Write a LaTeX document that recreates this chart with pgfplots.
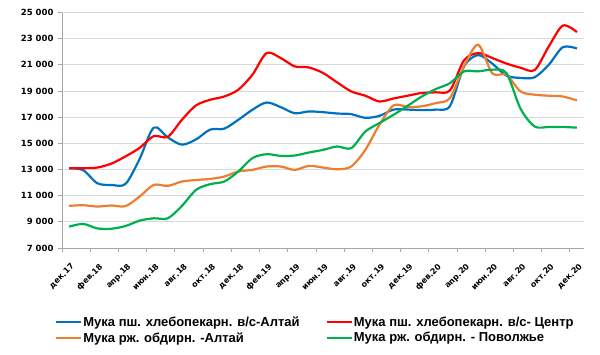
\documentclass[border=0pt]{standalone}
\usepackage{pgfplots}
\pgfplotsset{compat=1.18}
\usepackage{fontspec}
\setmainfont{DejaVu Sans}
\newfontfamily\legfont{Liberation Sans}
\definecolor{cblue}{RGB}{0,112,192}
\definecolor{cred}{RGB}{255,0,0}
\definecolor{corange}{RGB}{237,125,49}
\definecolor{cgreen}{RGB}{0,176,80}
\definecolor{gridc}{RGB}{217,217,217}
\definecolor{axc}{RGB}{166,166,166}

\pgfplotstableread{
i B R O G
0 13100 13100 10220 8630
1 12950 13100 10270 8840
2 11950 13150 10170 8500
3 11820 13450 10250 8470
4 11900 14000 10200 8680
5 13800 14650 10930 9090
6 16200 15550 11820 9270
7 15450 15500 11750 9270
8 14900 16800 12080 10220
9 15300 17900 12200 11440
10 16050 18330 12280 11880
11 16120 18580 12460 12080
12 16800 19100 12850 12850
13 17570 20250 12970 13870
14 18120 21900 13230 14170
15 17770 21520 13230 14040
16 17300 20880 12970 14070
17 17440 20800 13280 14300
18 17380 20380 13150 14500
19 17280 19660 13020 14760
20 17230 18970 13230 14630
21 16950 18640 14500 15900
22 17100 18200 16420 16550
23 17580 18430 17900 17180
24 17580 18640 17780 17870
25 17540 18850 17830 18580
26 17580 18900 18080 19150
27 17850 19050 18460 19600
28 20880 21350 20880 20500
29 21750 21900 22540 20500
30 21090 21520 20350 20630
31 20180 21100 20250 20370
32 20000 20780 18970 17650
33 20050 20600 18720 16290
34 21000 22400 18640 16250
35 22350 24000 18580 16250
36 22250 23500 18280 16200
}\data

\begin{document}
\begin{tikzpicture}
\useasboundingbox (-62pt,-106pt) rectangle (538pt,248pt);
\begin{axis}[
  at={(0pt,0pt)}, anchor=south west,
  scale only axis, width=522pt, height=235.5pt,
  xmin=-0.5, xmax=36.5, ymin=7000, ymax=25000,
  scaled y ticks=false,
  ytick={7000,9000,...,25000},
  yticklabels={7 000,9 000,11 000,13 000,15 000,17 000,19 000,21 000,23 000,25 000},
  xtick={0,2,...,36},
  xticklabels={дек.17,фев.18,апр.18,июн.18,авг.18,окт.18,дек.18,фев.19,апр.19,июн.19,авг.19,окт.19,дек.19,фев.20,апр.20,июн.20,авг.20,окт.20,дек.20},
  minor xtick={-0.5,1.5,...,35.5},
  axis lines*=left,
  axis line style={draw=axc, line width=0.8pt},
  tick align=outside,
  major tick length=4pt, minor tick length=4pt,
  major x tick style={draw=none},
  minor x tick style={draw=axc, line width=0.8pt},
  major y tick style={draw=axc, line width=0.8pt},
  ymajorgrids=true,
  grid style={draw=gridc, line width=0.8pt},
  yticklabel style={font=\fontsize{8.5}{10}\selectfont\bfseries, xshift=-1pt},
  xticklabel style={font=\fontsize{8}{9}\selectfont\bfseries, rotate=45, anchor=north east, inner sep=0.5pt, xshift=-6pt, yshift=-8pt},
  legend columns=2,
  legend cell align=left,
  legend image code/.code={\draw[#1] (0pt,0pt) -- (25pt,0pt);},
  legend style={draw=none, fill=none, at={(-0.0192,-0.278)}, anchor=north west,
    font=\legfont\fontsize{13}{14}\selectfont\bfseries,
    nodes={inner sep=1pt}, row sep=2.5pt,
    /tikz/every even column/.append style={column sep=25pt}},
  every axis plot/.append style={line width=2.2pt, smooth, no markers},
]
\addplot[cblue] table[x=i,y=B] {\data};
\addlegendentry{Мука пш. хлебопекарн. в/с-Алтай}
\addplot[cred] table[x=i,y=R] {\data};
\addlegendentry{Мука пш. хлебопекарн. в/с- Центр}
\addplot[corange] table[x=i,y=O] {\data};
\addlegendentry{Мука рж. обдирн. -Алтай}
\addplot[cgreen] table[x=i,y=G] {\data};
\addlegendentry{Мука рж. обдирн. - Поволжье}
\end{axis}
\end{tikzpicture}
\end{document}
